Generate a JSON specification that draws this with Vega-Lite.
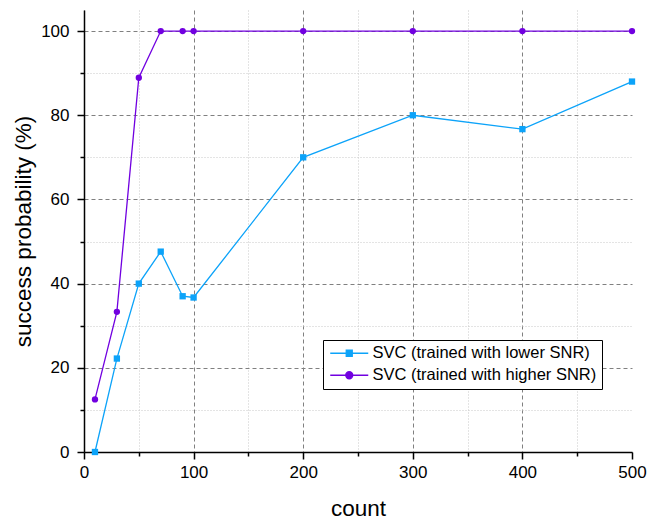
{
  "$schema": "https://vega.github.io/schema/vega-lite/v6.json",
  "width": 548,
  "height": 442,
  "autosize": "none",
  "padding": {"left": 84, "top": 10, "right": 17, "bottom": 67},
  "background": "white",
  "config": {
    "font": "Liberation Sans",
    "view": {"stroke": null},
    "axis": {
      "domainColor": "black",
      "domainWidth": 1.5,
      "tickColor": "black",
      "tickWidth": 1.5,
      "labelColor": "black",
      "titleColor": "black",
      "labelFontSize": 17,
      "titleFontSize": 22.5,
      "titleFontWeight": "normal",
      "labelFont": "Liberation Sans",
      "titleFont": "Liberation Sans"
    }
  },
  "data": {
    "values": [
      {"count": 10, "prob": 0, "series": "SVC (trained with lower SNR)"},
      {"count": 30, "prob": 22.2, "series": "SVC (trained with lower SNR)"},
      {"count": 50, "prob": 40, "series": "SVC (trained with lower SNR)"},
      {"count": 70, "prob": 47.6, "series": "SVC (trained with lower SNR)"},
      {"count": 90, "prob": 37, "series": "SVC (trained with lower SNR)"},
      {"count": 100, "prob": 36.7, "series": "SVC (trained with lower SNR)"},
      {"count": 200, "prob": 70, "series": "SVC (trained with lower SNR)"},
      {"count": 300, "prob": 80, "series": "SVC (trained with lower SNR)"},
      {"count": 400, "prob": 76.7, "series": "SVC (trained with lower SNR)"},
      {"count": 500, "prob": 88, "series": "SVC (trained with lower SNR)"},
      {"count": 10, "prob": 12.5, "series": "SVC (trained with higher SNR)"},
      {"count": 30, "prob": 33.3, "series": "SVC (trained with higher SNR)"},
      {"count": 50, "prob": 88.9, "series": "SVC (trained with higher SNR)"},
      {"count": 70, "prob": 100, "series": "SVC (trained with higher SNR)"},
      {"count": 90, "prob": 100, "series": "SVC (trained with higher SNR)"},
      {"count": 100, "prob": 100, "series": "SVC (trained with higher SNR)"},
      {"count": 200, "prob": 100, "series": "SVC (trained with higher SNR)"},
      {"count": 300, "prob": 100, "series": "SVC (trained with higher SNR)"},
      {"count": 400, "prob": 100, "series": "SVC (trained with higher SNR)"},
      {"count": 500, "prob": 100, "series": "SVC (trained with higher SNR)"}
    ]
  },
  "resolve": {"axis": {"x": "independent", "y": "independent"}},
  "layer": [
    {
      "mark": {"type": "line", "strokeWidth": 1.3},
      "encoding": {
        "x": {
          "field": "count", "type": "quantitative",
          "scale": {"domain": [0, 500], "nice": false, "zero": false},
          "axis": {
            "orient": "bottom",
            "values": [0, 100, 200, 300, 400, 500],
            "title": "count",
            "grid": true,
            "gridColor": "#808080",
            "gridDash": [4, 3],
            "gridWidth": 1,
            "gridOpacity": {"condition": {"test": "datum.value >= 500", "value": 0}, "value": 1},
            "tickSize": 7,
            "labelPadding": 5,
            "titlePadding": 17,
            "labelFlush": false
          }
        },
        "y": {
          "field": "prob", "type": "quantitative",
          "scale": {"domain": [0, 105], "nice": false},
          "axis": {
            "orient": "left",
            "values": [0, 20, 40, 60, 80, 100],
            "title": "success probability (%)",
            "grid": true,
            "gridColor": "#808080",
            "gridDash": [4, 3],
            "gridWidth": 1,
            "tickSize": 7,
            "labelPadding": 8,
            "titlePadding": 5,
            "labelFlush": false
          }
        },
        "color": {
          "field": "series", "type": "nominal",
          "scale": {
            "domain": ["SVC (trained with lower SNR)", "SVC (trained with higher SNR)"],
            "range": ["#0CA3F9", "#7100E0"]
          },
          "legend": {
            "title": null,
            "orient": "none",
            "legendX": 239,
            "legendY": 330,
            "strokeColor": "black",
            "fillColor": "white",
            "padding": 5,
            "cornerRadius": 0,
            "labelFontSize": 16.5,
            "labelFont": "Liberation Sans",
            "labelColor": "black",
            "labelLimit": 0,
            "symbolSize": 100,
            "symbolOffset": 13,
            "labelOffset": 15,
            "rowPadding": 5,
            "encode": {
              "symbols": {
                "update": {
                  "shape": {"signal": "datum.value === 'SVC (trained with lower SNR)' ? 'M-3.8,0H3.8M-0.6,-0.6H0.6V0.6H-0.6Z' : 'M-3.8,0H3.8M0.7,0A0.7,0.7 0 1,1 -0.7,0A0.7,0.7 0 1,1 0.7,0Z'"},
                  "fill": {"signal": "datum.value === 'SVC (trained with lower SNR)' ? '#0CA3F9' : '#7100E0'"},
                  "stroke": {"signal": "datum.value === 'SVC (trained with lower SNR)' ? '#0CA3F9' : '#7100E0'"},
                  "strokeWidth": {"value": 1.3},
                  "opacity": {"value": 1},
                  "fillOpacity": {"value": 1}
                }
              }
            }
          }
        }
      }
    },
    {
      "transform": [{"filter": "datum.series === 'SVC (trained with lower SNR)'"}],
      "mark": {"type": "point", "filled": true, "size": 40, "opacity": 1, "shape": "square", "color": "#0CA3F9"},
      "encoding": {
        "x": {
          "field": "count", "type": "quantitative",
          "axis": {
            "orient": "bottom",
            "values": [50, 150, 250, 350, 450],
            "title": null,
            "labels": false,
            "domain": false,
            "grid": true,
            "gridColor": "#c8c8c8",
            "gridDash": [1, 2],
            "gridWidth": 1,
            "tickSize": 4
          }
        },
        "y": {
          "field": "prob", "type": "quantitative",
          "axis": {
            "orient": "left",
            "values": [10, 30, 50, 70, 90],
            "title": null,
            "labels": false,
            "domain": false,
            "grid": true,
            "gridColor": "#c8c8c8",
            "gridDash": [1, 2],
            "gridWidth": 1,
            "tickSize": 4
          }
        }
      }
    },
    {
      "transform": [{"filter": "datum.series === 'SVC (trained with higher SNR)'"}],
      "mark": {"type": "point", "filled": true, "size": 40, "opacity": 1, "shape": "circle", "color": "#7100E0"},
      "encoding": {
        "x": {"field": "count", "type": "quantitative", "axis": null},
        "y": {"field": "prob", "type": "quantitative", "axis": null}
      }
    }
  ]
}
